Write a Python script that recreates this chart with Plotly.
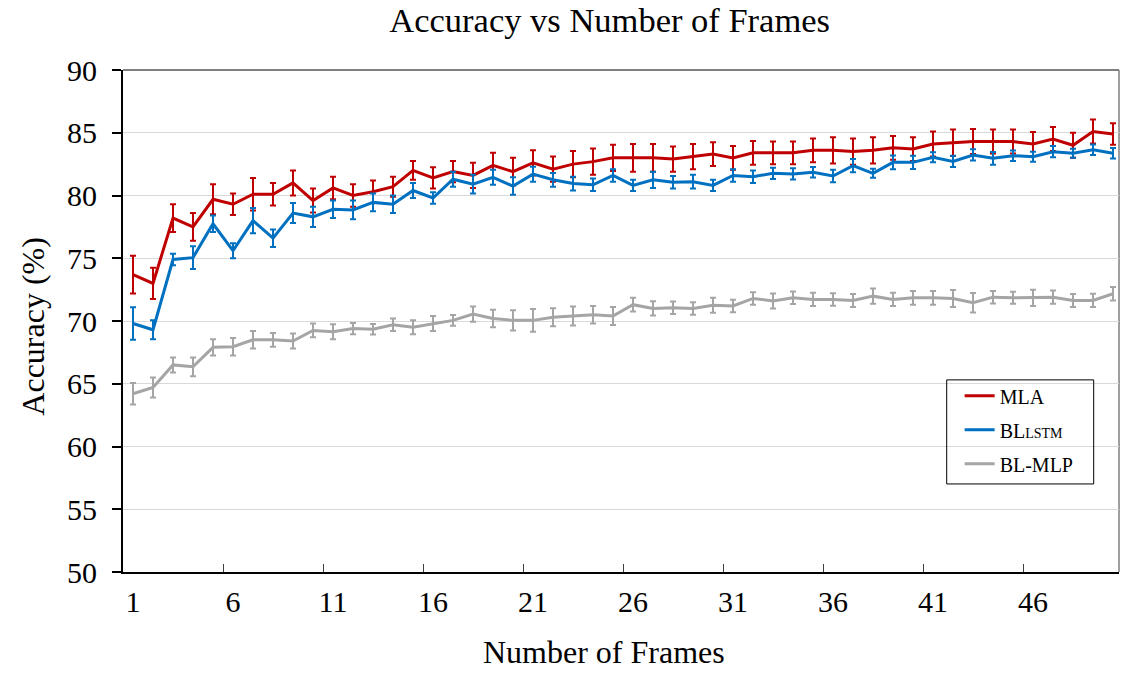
import plotly.graph_objects as go

frames = list(range(1, 51))

mla = [73.7, 73.0, 78.2, 77.5, 79.7, 79.3, 80.1, 80.1, 81.0, 79.6,
       80.6, 80.0, 80.3, 80.7, 82.0, 81.4, 81.9, 81.6, 82.4, 81.9,
       82.6, 82.1, 82.5, 82.7, 83.0, 83.0, 83.0, 82.9, 83.1, 83.3,
       83.0, 83.4, 83.4, 83.4, 83.6, 83.6, 83.5, 83.6, 83.8, 83.7,
       84.1, 84.2, 84.3, 84.3, 84.3, 84.1, 84.5, 84.0, 85.1, 84.9]
mla_err = [1.5, 1.25, 1.1, 1.1, 1.2, 0.85, 1.3, 0.9, 1.0, 0.95,
           0.9, 0.9, 0.9, 0.8, 0.75, 0.85, 0.85, 1.0, 1.0, 1.1,
           1.0, 1.0, 1.05, 1.05, 1.05, 1.1, 1.1, 1.0, 1.0, 0.95,
           0.95, 0.95, 0.9, 0.9, 0.95, 1.05, 1.05, 1.05, 0.95, 0.95,
           1.0, 1.05, 1.0, 0.95, 0.95, 0.95, 0.95, 1.0, 0.95, 0.85]

lstm = [69.8, 69.3, 74.9, 75.05, 77.75, 75.6, 78.0, 76.6, 78.6, 78.3,
        78.9, 78.85, 79.45, 79.3, 80.4, 79.8, 81.3, 80.9, 81.45, 80.75,
        81.7, 81.25, 80.95, 80.85, 81.6, 80.8, 81.25, 81.05, 81.1, 80.8,
        81.6, 81.5, 81.77, 81.72, 81.85, 81.55, 82.38, 81.77, 82.64, 82.64,
        83.04, 82.72, 83.23, 82.96, 83.17, 83.09, 83.49, 83.36, 83.65, 83.36]
lstm_err = [1.3, 0.75, 0.45, 0.9, 0.65, 0.6, 1.0, 0.7, 0.8, 0.8,
            0.7, 0.75, 0.7, 0.7, 0.6, 0.45, 0.6, 0.75, 0.6, 0.7,
            0.6, 0.55, 0.55, 0.5, 0.5, 0.45, 0.65, 0.5, 0.55, 0.45,
            0.5, 0.5, 0.45, 0.45, 0.42, 0.5, 0.52, 0.36, 0.55, 0.52,
            0.4, 0.45, 0.45, 0.5, 0.42, 0.4, 0.45, 0.36, 0.42, 0.42]

mlp = [64.2, 64.7, 66.5, 66.35, 67.9, 67.95, 68.5, 68.5, 68.4, 69.25,
       69.15, 69.4, 69.35, 69.7, 69.5, 69.8, 70.05, 70.55, 70.2, 70.05,
       70.05, 70.3, 70.4, 70.5, 70.4, 71.3, 71.0, 71.05, 71.0, 71.25,
       71.2, 71.8, 71.6, 71.85, 71.72, 71.72, 71.64, 71.98, 71.72, 71.85,
       71.85, 71.8, 71.46, 71.9, 71.85, 71.85, 71.9, 71.64, 71.64, 72.17]
mlp_err = [0.85, 0.8, 0.6, 0.75, 0.65, 0.7, 0.7, 0.55, 0.6, 0.55,
           0.6, 0.45, 0.42, 0.5, 0.55, 0.6, 0.42, 0.6, 0.7, 0.8,
           0.9, 0.72, 0.75, 0.7, 0.72, 0.55, 0.57, 0.5, 0.5, 0.6,
           0.5, 0.5, 0.6, 0.5, 0.53, 0.5, 0.52, 0.6, 0.53, 0.55,
           0.55, 0.68, 0.78, 0.5, 0.48, 0.65, 0.53, 0.52, 0.53, 0.53]

x_labels = [1, 6, 11, 16, 21, 26, 31, 36, 41, 46]
x_tick_marks = [5.5, 10.5, 15.5, 20.5, 25.5, 30.5, 35.5, 40.5, 45.5]
y_ticks = [50, 55, 60, 65, 70, 75, 80, 85, 90]

series = [
    ("MLA", mla, mla_err, "#C00000"),
    ("BL<span style='font-size:14px'>LSTM</span>", lstm, lstm_err, "#0070C0"),
    ("BL-MLP", mlp, mlp_err, "#A5A5A5"),
]

FONT = "Liberation Serif, Times New Roman, serif"

fig = go.Figure()
for i, (name, vals, errs, color) in enumerate(series):
    fig.add_trace(go.Scatter(
        x=frames, y=vals, name=name, mode="lines", legendgroup=f"g{i}",
        line=dict(color=color, width=3),
        error_y=dict(type="data", array=errs, visible=True,
                     color=color, thickness=2, width=3),
    ))

# invisible trace carrying the secondary x axis used for the boundary tick marks
fig.add_trace(go.Scatter(x=[0.5, 50.3], y=[None, None], xaxis="x2",
                         showlegend=False, hoverinfo="skip"))

fig.update_layout(
    width=1129, height=673,
    margin=dict(l=123, r=10, t=70, b=101),
    paper_bgcolor="white", plot_bgcolor="white",
    font=dict(family=FONT, color="black", size=30),
    title=dict(text="Accuracy vs Number of Frames", x=0.54, xanchor="center",
               y=0.97, yanchor="middle", font=dict(size=34.5)),
    xaxis=dict(
        range=[0.5, 50.3], tickmode="array", tickvals=x_labels,
        ticks="", showgrid=False, zeroline=False,
        showline=True, linecolor="black", linewidth=2,
        ticklabelstandoff=2,
    ),
    xaxis2=dict(
        overlaying="x", range=[0.5, 50.3], tickmode="array", tickvals=x_tick_marks,
        ticks="inside", ticklen=8, tickwidth=1, tickcolor="#404040",
        showticklabels=False, showgrid=False, zeroline=False, showline=False,
        side="bottom",
    ),
    yaxis=dict(
        range=[50, 90], tickmode="array", tickvals=y_ticks,
        ticks="outside", ticklen=9, tickwidth=1.5, tickcolor="black",
        showgrid=True, gridcolor="#D9D9D9", gridwidth=1, zeroline=False,
        showline=True, linecolor="black", linewidth=2,
        ticklabelstandoff=9,
    ),
    legend=dict(
        x=0.84, y=0.39, xanchor="left", yanchor="top",
        bgcolor="rgba(0,0,0,0)", borderwidth=0,
        font=dict(family=FONT, size=20, color="black"),
        itemwidth=30, tracegroupgap=5,
    ),
    showlegend=True,
)

# axis titles
fig.add_annotation(text="Number of Frames", xref="paper", yref="paper",
                   x=0.483, y=-0.159, xanchor="center", yanchor="middle",
                   showarrow=False, font=dict(size=32))
fig.add_annotation(text="Accuracy (%)", xref="paper", yref="paper",
                   x=-0.0907, y=0.49, xanchor="center", yanchor="middle",
                   textangle=-90, showarrow=False, font=dict(size=32))

# plot-area frame: gray top and right edges
fig.add_shape(type="line", xref="paper", yref="paper", x0=0, x1=1, y0=1, y1=1,
              line=dict(color="#7F7F7F", width=2), layer="below")
fig.add_shape(type="line", xref="paper", yref="paper", x0=1, x1=1, y0=0, y1=1,
              line=dict(color="#7F7F7F", width=1.5), layer="below")

# legend frame
fig.add_shape(type="rect", xref="paper", yref="paper",
              x0=0.827, x1=0.9746, y0=0.1754, y1=0.3827,
              line=dict(color="black", width=1), fillcolor="rgba(0,0,0,0)")

fig.write_html("out.html")
